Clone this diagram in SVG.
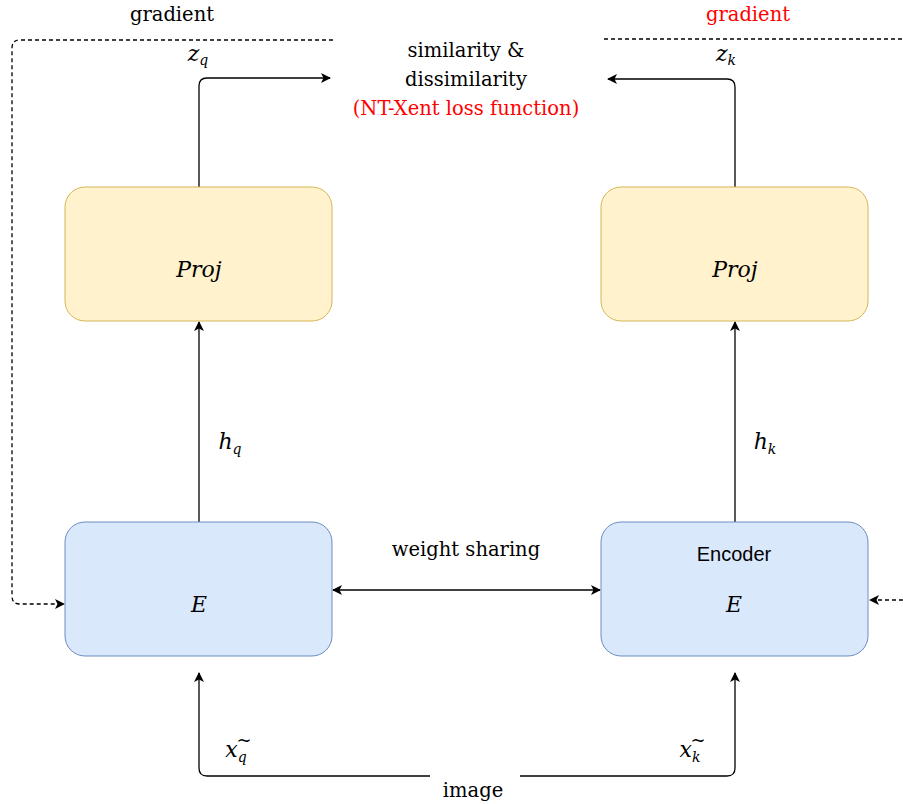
<svg xmlns="http://www.w3.org/2000/svg" width="903" height="804" viewBox="0 0 903 804">
<style>
.t{font-family:"DejaVu Serif",serif;font-size:19.5px;fill:#000;text-anchor:middle}
.m{font-family:"DejaVu Serif",serif;font-style:italic;font-size:22px;fill:#000;text-anchor:middle}
.red{fill:#ff0000}
.proj{fill:#fff2cc;stroke:#d6b656;stroke-width:1}
.enc{fill:#dae8fc;stroke:#6c8ebf;stroke-width:1}
.c{fill:none;stroke:#000;stroke-width:1.3}
.d{fill:none;stroke:#000;stroke-width:1.3;stroke-dasharray:4 3}
.s{font-size:14px}
.tl{font-family:"DejaVu Serif",serif;font-size:18px;text-anchor:middle}
</style>
<defs>
<marker id="a" viewBox="0 0 10 10" refX="9" refY="5" markerWidth="10" markerHeight="10" markerUnits="userSpaceOnUse" orient="auto-start-reverse">
<path d="M0,0 L10,5 L0,10 L2.5,5 Z" fill="#000"/>
</marker>
</defs>
<g id="connectors">
<path class="c" d="M199,187 V86 Q199,78 207,78 H330" marker-end="url(#a)"/>
<path class="c" d="M735,187 V87 Q735,79 727,79 H608" marker-end="url(#a)"/>
<path class="c" d="M199,522 V322" marker-end="url(#a)"/>
<path class="c" d="M735,522 V322" marker-end="url(#a)"/>
<path class="c" d="M430,776 H207 Q199,776 199,768 V673" marker-end="url(#a)"/>
<path class="c" d="M520,776 H727 Q735,776 735,768 V673" marker-end="url(#a)"/>
<path class="c" d="M333,590 H600" marker-start="url(#a)" marker-end="url(#a)"/>
<path class="d" d="M333,40 H20 Q12,40 12,48 V596 Q12,604 20,604 H64" marker-end="url(#a)"/>
<path class="d" d="M604,39 H903"/>
<path class="d" d="M903,600 H870" marker-end="url(#a)"/>
</g>
<g id="proj-left"><rect class="proj" x="65" y="187" width="267" height="134" rx="20"/><text class="m" x="199" y="277">Proj</text></g>
<g id="proj-right"><rect class="proj" x="601" y="187" width="267" height="134" rx="20"/><text class="m" x="735" y="277">Proj</text></g>
<g id="enc-left"><rect class="enc" x="65" y="522" width="267" height="134" rx="20"/><text class="m" x="199" y="612">E</text></g>
<g id="enc-right"><rect class="enc" x="601" y="522" width="267" height="134" rx="20"/><text x="734" y="561" style="font-family:'Liberation Sans',Arial,sans-serif;font-size:20px;text-anchor:middle">Encoder</text><text class="m" x="734" y="612">E</text></g>
<g id="labels">
<text class="t" x="172" y="21">gradient</text>
<text class="t red" x="748" y="21">gradient</text>
<text class="t" x="466" y="57">similarity &amp;</text>
<text class="t" x="466" y="86">dissimilarity</text>
<text class="t red" x="466" y="115">(NT-Xent loss function)</text>
<text class="t" x="466" y="556">weight sharing</text>
<text class="t" x="473" y="797">image</text>
<text class="m" x="198" y="61">z<tspan class="s" dy="4">q</tspan></text>
<text class="m" x="726" y="61">z<tspan class="s" dy="4">k</tspan></text>
<text class="m" x="230" y="449">h<tspan class="s" dy="5">q</tspan></text>
<text class="m" x="765" y="449">h<tspan class="s" dy="5">k</tspan></text>
<text class="m" x="236" y="757">x<tspan class="s" dy="5">q</tspan></text>
<text class="tl" x="244" y="746">~</text>
<text class="m" x="690" y="757">x<tspan class="s" dy="5">k</tspan></text>
<text class="tl" x="698" y="746">~</text>
</g>
</svg>
